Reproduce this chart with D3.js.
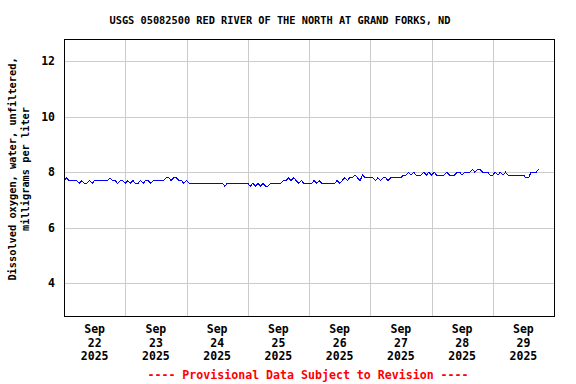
<!DOCTYPE html>
<html>
<head>
<meta charset="utf-8">
<script src="https://cdn.jsdelivr.net/npm/d3@7"></script>
<style>
  body { margin: 0; background: #fff; }
  text { font-family: "DejaVu Sans Mono", monospace; font-weight: bold; }
</style>
</head>
<body>
<div id="chart"></div>
<script>
const W = 576, H = 384;
const PLOT = { LEFT: 64, RIGHT: 554, TOP: 39, BOTTOM: 316 };

// hourly dissolved oxygen (mg/L), one array per day, starting 00:00
const sep22 = [7.7,7.8,7.7,7.7,7.7,7.7,7.6,7.7,7.6,7.6,7.7,7.6,7.7,7.7,7.7,7.7,7.7,7.7,7.8,7.7,7.7,7.6,7.7,7.7];
const sep23 = [7.6,7.7,7.6,7.7,7.6,7.6,7.7,7.6,7.7,7.7,7.6,7.7,7.7,7.7,7.7,7.7,7.8,7.8,7.7,7.8,7.8,7.7,7.7,7.6];
const sep24 = [7.7,7.6,7.6,7.6,7.6,7.6,7.6,7.6,7.6,7.6,7.6,7.6,7.6,7.6,7.6,7.5,7.6,7.6,7.6,7.6,7.6,7.6,7.6,7.6];
const sep25 = [7.6,7.5,7.6,7.5,7.6,7.5,7.6,7.5,7.5,7.6,7.6,7.6,7.6,7.6,7.7,7.7,7.8,7.7,7.8,7.7,7.6,7.7,7.6,7.6];
const sep26 = [7.6,7.6,7.7,7.6,7.7,7.6,7.6,7.6,7.6,7.6,7.6,7.7,7.6,7.7,7.8,7.7,7.8,7.8,7.9,7.8,7.7,7.9,7.8,7.8];
const sep27 = [7.8,7.8,7.7,7.8,7.7,7.8,7.8,7.7,7.8,7.8,7.8,7.8,7.8,7.9,7.9,8.0,7.9,8.0,7.9,7.9,7.9,8.0,7.9,8.0];
const sep28 = [7.9,8.0,7.9,7.9,7.9,7.9,8.0,7.9,7.9,7.9,8.0,8.0,7.9,8.0,8.0,8.0,8.1,8.0,8.1,8.1,8.0,8.0,8.0,7.9];
const sep29 = [7.9,8.0,7.9,8.0,7.9,8.0,7.9,7.9,7.9,7.9,7.9,7.9,7.9,7.8,7.8,8.0,8.0,8.0,8.1];

const dayValues = [sep22, sep23, sep24, sep25, sep26, sep27, sep28, sep29];
const dayLabels = ["22", "23", "24", "25", "26", "27", "28", "29"];
const yTicks = [4, 6, 8, 10, 12];

const start = new Date(2025, 8, 22, 0, 0);
const end = new Date(2025, 8, 30, 0, 0);

const data = [];
dayValues.forEach((vals, d) => {
  vals.forEach((v, h) => {
    data.push({ t: new Date(2025, 8, 22 + d, h, 0), v: v });
  });
});

const svg = d3.select("#chart").append("svg")
  .attr("width", W).attr("height", H);

const x = d3.scaleTime().domain([start, end]).range([PLOT.LEFT, PLOT.RIGHT]);
const y = d3.scaleLinear().domain([2.82, 12.8]).range([PLOT.BOTTOM, PLOT.TOP]);

const crisp = v => Math.round(v) + 0.5;

// grid
const grid = svg.append("g").attr("stroke", "#cccccc").attr("stroke-width", 1)
  .attr("shape-rendering", "crispEdges");
grid.selectAll("line.h").data(yTicks).enter().append("line")
  .attr("x1", PLOT.LEFT).attr("x2", PLOT.RIGHT)
  .attr("y1", d => crisp(y(d))).attr("y2", d => crisp(y(d)));
grid.selectAll("line.v").data(d3.timeDay.range(d3.timeDay.offset(start, 1), end)).enter().append("line")
  .attr("y1", PLOT.TOP).attr("y2", PLOT.BOTTOM)
  .attr("x1", d => crisp(x(d))).attr("x2", d => crisp(x(d)));

// data line
const line = d3.line().x(d => x(d.t)).y(d => y(d.v));
svg.append("path").datum(data)
  .attr("d", line)
  .attr("fill", "none")
  .attr("stroke", "#0000ff")
  .attr("stroke-width", 1)
  .attr("shape-rendering", "crispEdges");

// frame
svg.append("rect")
  .attr("x", PLOT.LEFT + 0.5).attr("y", PLOT.TOP + 0.5)
  .attr("width", PLOT.RIGHT - PLOT.LEFT).attr("height", PLOT.BOTTOM - PLOT.TOP)
  .attr("fill", "none").attr("stroke", "#000").attr("shape-rendering", "crispEdges");

// y tick labels
svg.append("g").selectAll("text").data(yTicks).enter().append("text")
  .attr("x", 55).attr("y", d => y(d) + 4)
  .attr("text-anchor", "end")
  .attr("font-size", "11.5px")
  .text(d => d);

// x tick labels at noon
const xl = svg.append("g").selectAll("g").data(dayLabels).enter().append("g")
  .attr("transform", (d, i) => `translate(${x(new Date(2025, 8, 22 + i, 12))},0)`);
xl.append("text").attr("y", 333).attr("text-anchor", "middle").attr("font-size", "11.5px").text("Sep");
xl.append("text").attr("y", 347).attr("text-anchor", "middle").attr("font-size", "11.5px").text(d => d);
xl.append("text").attr("y", 360).attr("text-anchor", "middle").attr("font-size", "11.5px").text("2025");

// title
svg.append("text")
  .attr("x", 280).attr("y", 24)
  .attr("text-anchor", "middle").attr("font-size", "10.3px")
  .text("USGS 05082500 RED RIVER OF THE NORTH AT GRAND FORKS, ND");

// y axis label
const yl = svg.append("g").attr("transform", "translate(0,169) rotate(-90)");
yl.append("text").attr("x", 0).attr("y", 16).attr("text-anchor", "middle")
  .attr("font-size", "10.3px").text("Dissolved oxygen, water, unfiltered,");
yl.append("text").attr("x", 0).attr("y", 29).attr("text-anchor", "middle")
  .attr("font-size", "10.3px").text("milligrams per liter");

// footer
svg.append("text")
  .attr("x", 308).attr("y", 379)
  .attr("text-anchor", "middle").attr("font-size", "11.6px")
  .attr("fill", "#ff0000")
  .text("---- Provisional Data Subject to Revision ----");
</script>
</body>
</html>
